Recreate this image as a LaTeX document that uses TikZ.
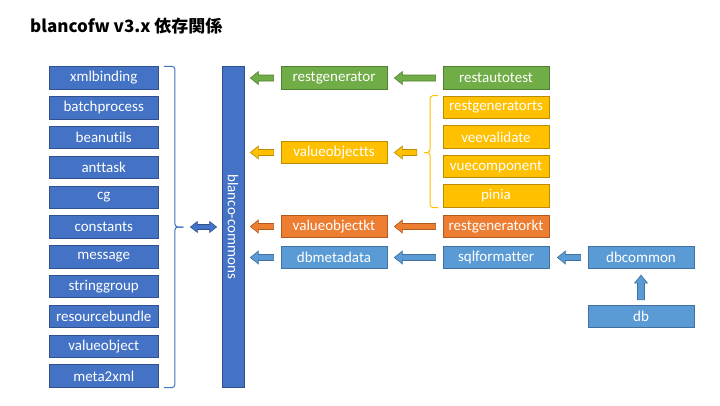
\documentclass[tikz,border=0pt]{standalone}
\usepackage{fontspec}
\setmainfont{Carlito}[Ligatures=NoCommon]
\newfontfamily\cjkfont{Noto Sans CJK JP}
\usetikzlibrary{calc}
\definecolor{dblue}{HTML}{4472C4}
\definecolor{dblueB}{HTML}{2F528F}
\definecolor{lblue}{HTML}{5B9BD5}
\definecolor{lblueB}{HTML}{41719C}
\definecolor{cgreen}{HTML}{70AD47}
\definecolor{cgreenB}{HTML}{507E32}
\definecolor{cyel}{HTML}{FFC000}
\definecolor{cyelB}{HTML}{BC8C00}
\definecolor{corange}{HTML}{ED7D31}
\definecolor{corangeB}{HTML}{AE5A21}
\newcommand{\larrow}[3]{%
  \path[#1] let \p1=(#2), \p2=(#3) in
    (\x1,\y1+3pt) -- (\x2+8pt,\y1+3pt) -- (\x2+8pt,\y1+6.5pt) -- (\x2,\y1)
    -- (\x2+8pt,\y1-6.5pt) -- (\x2+8pt,\y1-3pt) -- (\x1,\y1-3pt) -- cycle;}
\newcommand{\uarrow}[3]{%
  \path[#1] let \p1=(#2), \p2=(#3) in
    (\x1-3.5pt,\y1) -- (\x1-3.5pt,\y2-8pt) -- (\x1-6.5pt,\y2-8pt) -- (\x1,\y2)
    -- (\x1+6.5pt,\y2-8pt) -- (\x1+3.5pt,\y2-8pt) -- (\x1+3.5pt,\y1) -- cycle;}
\newcommand{\darrow}[3]{%
  \path[#1] let \p1=(#2), \p2=(#3) in
    (\x1,\y1) -- (\x1+7pt,\y1+5.5pt) -- (\x1+7pt,\y1+2.5pt) -- (\x2-7pt,\y1+2.5pt)
    -- (\x2-7pt,\y1+5.5pt) -- (\x2,\y1) -- (\x2-7pt,\y1-5.5pt) -- (\x2-7pt,\y1-2.5pt)
    -- (\x1+7pt,\y1-2.5pt) -- (\x1+7pt,\y1-5.5pt) -- cycle;}
\begin{document}
\begin{tikzpicture}[x=1pt,y=-1pt,
  box/.style={draw, line width=0.8pt, inner sep=0pt, text=white,
    minimum height=22.5pt, font=\fontsize{15}{17}\selectfont},
  leftbox/.style={box, fill=dblue, draw=dblueB, minimum width=109.5pt},
  midbox/.style={box, minimum width=106pt},
  greenbox/.style={midbox, fill=cgreen, draw=cgreenB},
  yelbox/.style={midbox, fill=cyel, draw=cyelB},
  orbox/.style={midbox, fill=corange, draw=corangeB},
  lbbox/.style={midbox, fill=lblue, draw=lblueB},
  garrow/.style={fill=cgreen, draw=cgreenB, line width=0.6pt},
  yarrow/.style={fill=cyel, draw=cyelB, line width=0.6pt},
  oarrow/.style={fill=corange, draw=corangeB, line width=0.6pt},
  barrow/.style={fill=lblue, draw=lblueB, line width=0.6pt},
  dbarrow/.style={fill=dblue, draw=dblueB, line width=0.6pt},
  bracel/.style={draw=dblue, line width=1pt, rounded corners=3pt},
  bracey/.style={draw=cyel, line width=1pt, rounded corners=3pt}]
\useasboundingbox (0,0) rectangle (720,405);
\fill[white] (0,0) rectangle (720,405);
\node[anchor=west, inner sep=0pt, font=\cjkfont\bfseries\fontsize{17}{20}\selectfont] (title) at (30,26.5) {blancofw v3.x 依存関係};
% left column
\foreach \n/\t [count=\i from 0] in {xml/xmlbinding,bp/batchprocess,bu/beanutils,at/anttask,cg/cg,co/constants,me/message,sg/stringgroup,rb/resourcebundle,vo/valueobject,mx/meta2xml}{
  \node[leftbox] (\n) at (103.75,{78+29.8*\i}) {\t};
}
% commons bar
\node[box, fill=dblue, draw=dblueB, minimum width=22pt, minimum height=320.3pt] (bc) at (233,226.85) {};
\node[rotate=-90, text=white, inner sep=0pt, font=\fontsize{15}{17}\selectfont] (bct) at (bc.center) {blanco-commons};
% middle column
\node[greenbox] (rg) at (334,78) {restgenerator};
\node[yelbox] (vots) at (334,152.5) {valueobjectts};
\node[orbox] (vokt) at (334,226.5) {valueobjectkt};
\node[lbbox] (dbm) at (334,257.5) {dbmetadata};
% right column
\node[greenbox] (rat) at (496,78) {restautotest};
\node[yelbox] (rgts) at (496,107.3) {restgeneratorts};
\node[yelbox] (vv) at (496,137) {veevalidate};
\node[yelbox] (vc) at (496,166.5) {vuecomponent};
\node[yelbox] (pn) at (496,196) {pinia};
\node[orbox] (rgkt) at (496,226.5) {restgeneratorkt};
\node[lbbox] (sqlf) at (496,257.5) {sqlformatter};
\node[lbbox] (dbc) at (641,257.5) {dbcommon};
\node[lbbox] (db) at (641,316.5) {db};
% left brace
\coordinate (lbt) at ($(xml.north east)+(5,0)$);
\coordinate (lbb) at ($(mx.south east)+(5,0)$);
\coordinate (lbm) at ($(co.east)+(24.5,0)$);
\draw[bracel] (lbt) -- ++(11,0) |- (lbm);
\draw[bracel] (lbb) -- ++(11,0) |- (lbm);
% yellow brace
\coordinate (ybt) at ($(rgts.north west)+(-4.5,0)$);
\coordinate (ybb) at ($(pn.south west)+(-4.5,0)$);
\coordinate (ybm) at ($(vots.east)+(37,0)$);
\draw[bracey] (ybt) -- ++(-8,0) |- (ybm);
\draw[bracey] (ybb) -- ++(-8,0) |- (ybm);
% arrows
\darrow{dbarrow}{$(lbm)+(7,0)$}{$(bc.west)+(-5,0)$}
\larrow{garrow}{$(rg.west)+(-7,0)$}{$(bc.east)+(6,0)$}
\larrow{garrow}{$(rat.west)+(-7,0)$}{$(rg.east)+(7,0)$}
\larrow{yarrow}{$(vots.west)+(-7,0)$}{$(bc.east)+(6,0)$}
\larrow{yarrow}{$(ybm)+(-7.5,0)$}{$(vots.east)+(7,0)$}
\larrow{oarrow}{$(vokt.west)+(-7,0)$}{$(bc.east)+(6,0)$}
\larrow{oarrow}{$(rgkt.west)+(-7,0)$}{$(vokt.east)+(7,0)$}
\larrow{barrow}{$(dbm.west)+(-7,0)$}{$(bc.east)+(6,0)$}
\larrow{barrow}{$(sqlf.west)+(-7,0)$}{$(dbm.east)+(7,0)$}
\larrow{barrow}{$(dbc.west)+(-7,0)$}{$(sqlf.east)+(8,0)$}
\uarrow{barrow}{$(db.north)+(0,-5)$}{$(dbc.south)+(0,6)$}
\end{tikzpicture}
\end{document}
